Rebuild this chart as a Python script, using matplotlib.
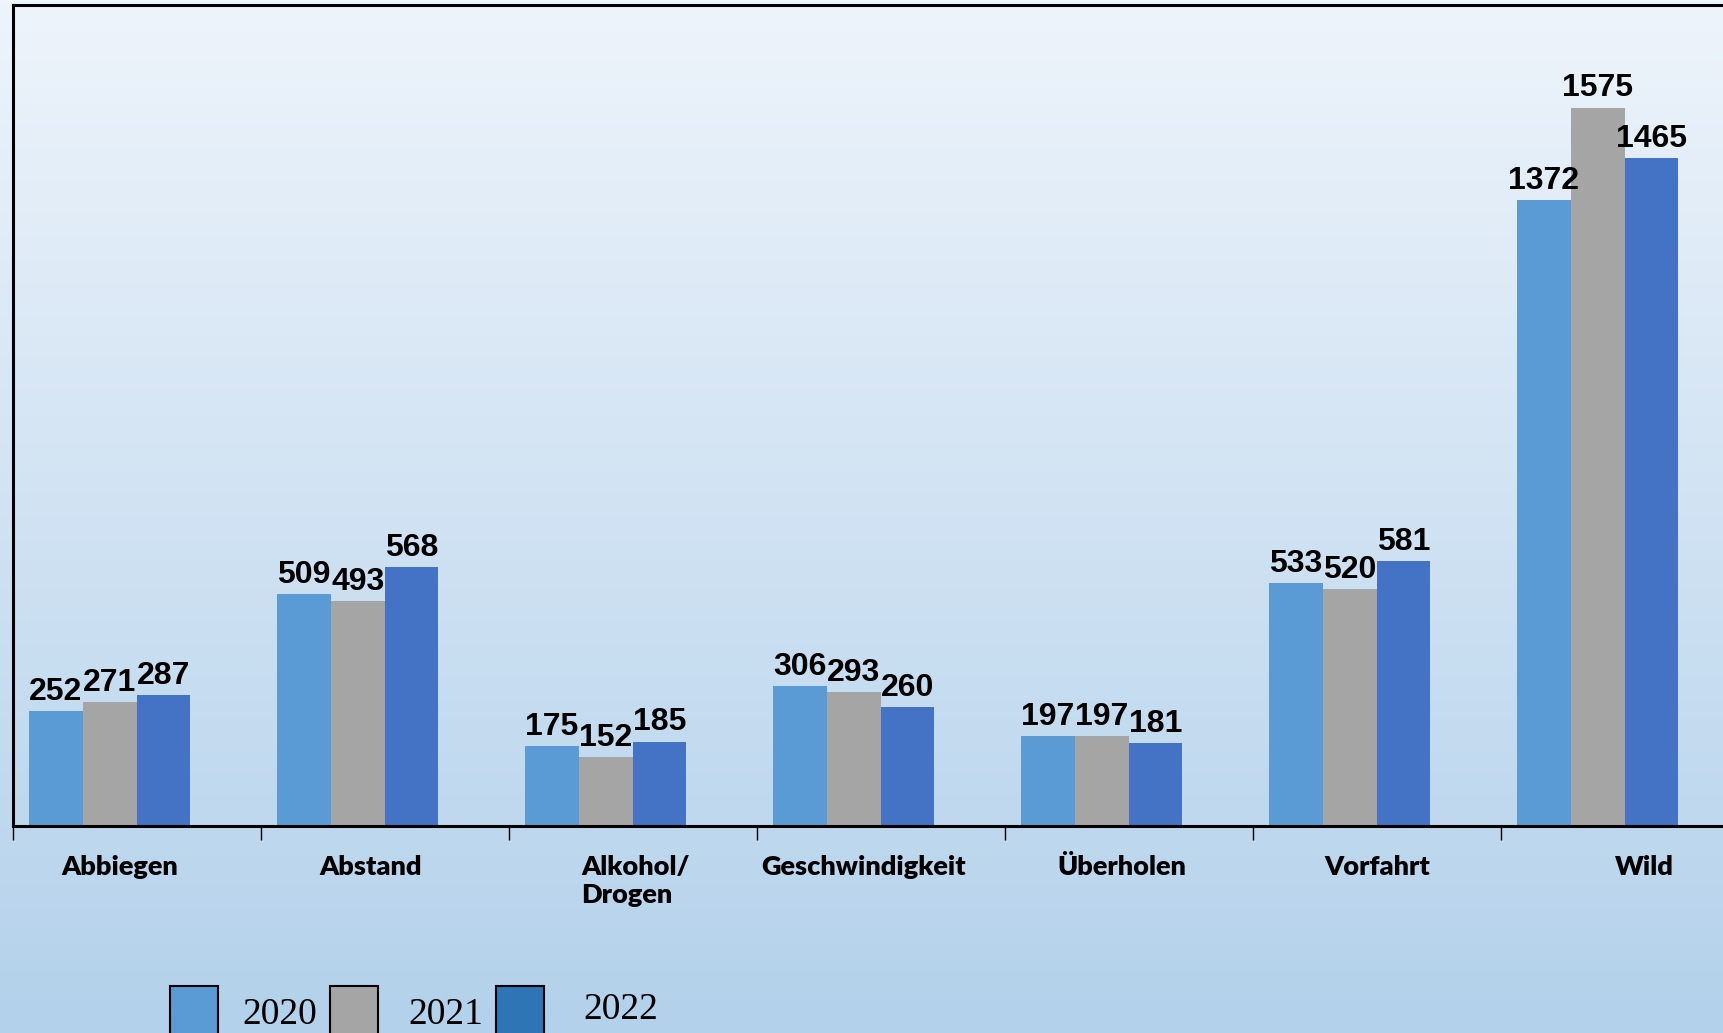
import numpy as np
import matplotlib
matplotlib.use("Agg")
import matplotlib.pyplot as plt
from matplotlib.patches import Rectangle
from matplotlib.colors import LinearSegmentedColormap

categories = ["Abbiegen", "Abstand", "Alkohol/\nDrogen", "Geschwindigkeit",
              "Überholen", "Vorfahrt", "Wild"]
years = ["2020", "2021", "2022"]
v2020 = [252, 509, 175, 306, 197, 533, 1372]
v2021 = [271, 493, 152, 293, 197, 520, 1575]
v2022 = [287, 568, 185, 260, 181, 581, 1465]

bar_colors = ["#5B9BD5", "#A5A5A5", "#4472C4"]
legend_colors = ["#5B9BD5", "#A5A5A5", "#2E75B6"]
# small nudges so the category names sit where the original put them
label_nudge = [-0.07, -0.06, 0.01, -0.07, -0.03, 0.0, 0.08]

W, H = 1724, 1033
fig = plt.figure(figsize=(W / 100, H / 100), dpi=100)

# background gradient over the whole figure
bg = fig.add_axes([0, 0, 1, 1], zorder=0)
cmap = LinearSegmentedColormap.from_list("bg", ["#B3D1EB", "#EEF4FB"])
grad = np.linspace(0, 1, 256).reshape(-1, 1)
bg.imshow(grad, aspect="auto", cmap=cmap, origin="lower", extent=[0, 1, 0, 1])
bg.axis("off")

left, top, base = 13, 5, 826
ax = fig.add_axes([left / W, (H - base) / H, 1736 / W, (base - top) / H], zorder=1)
ax.patch.set_alpha(0)

x = np.arange(len(categories))
bw = 0.217
shift = -0.11
series = [v2020, v2021, v2022]
for k, vals in enumerate(series):
    bars = ax.bar(x + shift + (k - 1) * bw, vals, width=bw, color=bar_colors[k],
                  zorder=2)
    ax.bar_label(bars, padding=3, fontsize=23, fontweight="bold",
                 family="Liberation Sans", color="black")

ax.set_xlim(-0.5, len(categories) - 0.5)
ax.set_ylim(0, 1800)
ax.set_yticks([])

# boundary ticks between categories
ax.set_xticks(np.arange(len(categories)) - 0.5)
ax.set_xticklabels([])
ax.tick_params(axis="x", which="major", length=10, width=1, direction="out")
ax.set_xticks(x + np.array(label_nudge), minor=True)
ax.set_xticklabels(categories, minor=True, fontsize=19.5, fontweight="heavy",
                   family="Lato")
ax.tick_params(axis="x", which="minor", length=0, pad=21)
for t in ax.get_xticklabels(minor=True):
    t.set_multialignment("left")

for s in ["left", "top", "bottom"]:
    ax.spines[s].set_linewidth(2.2)
    ax.spines[s].set_color("black")
ax.spines["right"].set_visible(False)

# legend drawn by hand along the bottom edge
patch_x = [170, 330, 496]
text_x = [242, 408, 583]
text_base = [1024, 1024, 1019]
for k, yr in enumerate(years):
    fig.add_artist(Rectangle((patch_x[k] / W, -0.02), 48 / W, (H - 986) / H + 0.02,
                             transform=fig.transFigure, facecolor=legend_colors[k],
                             edgecolor="black", linewidth=1.5, zorder=3))
    fig.text(text_x[k] / W, (H - text_base[k]) / H, yr, fontsize=27,
             family="Liberation Serif", va="baseline", ha="left", zorder=3)

fig.savefig("out.png", dpi=100)
